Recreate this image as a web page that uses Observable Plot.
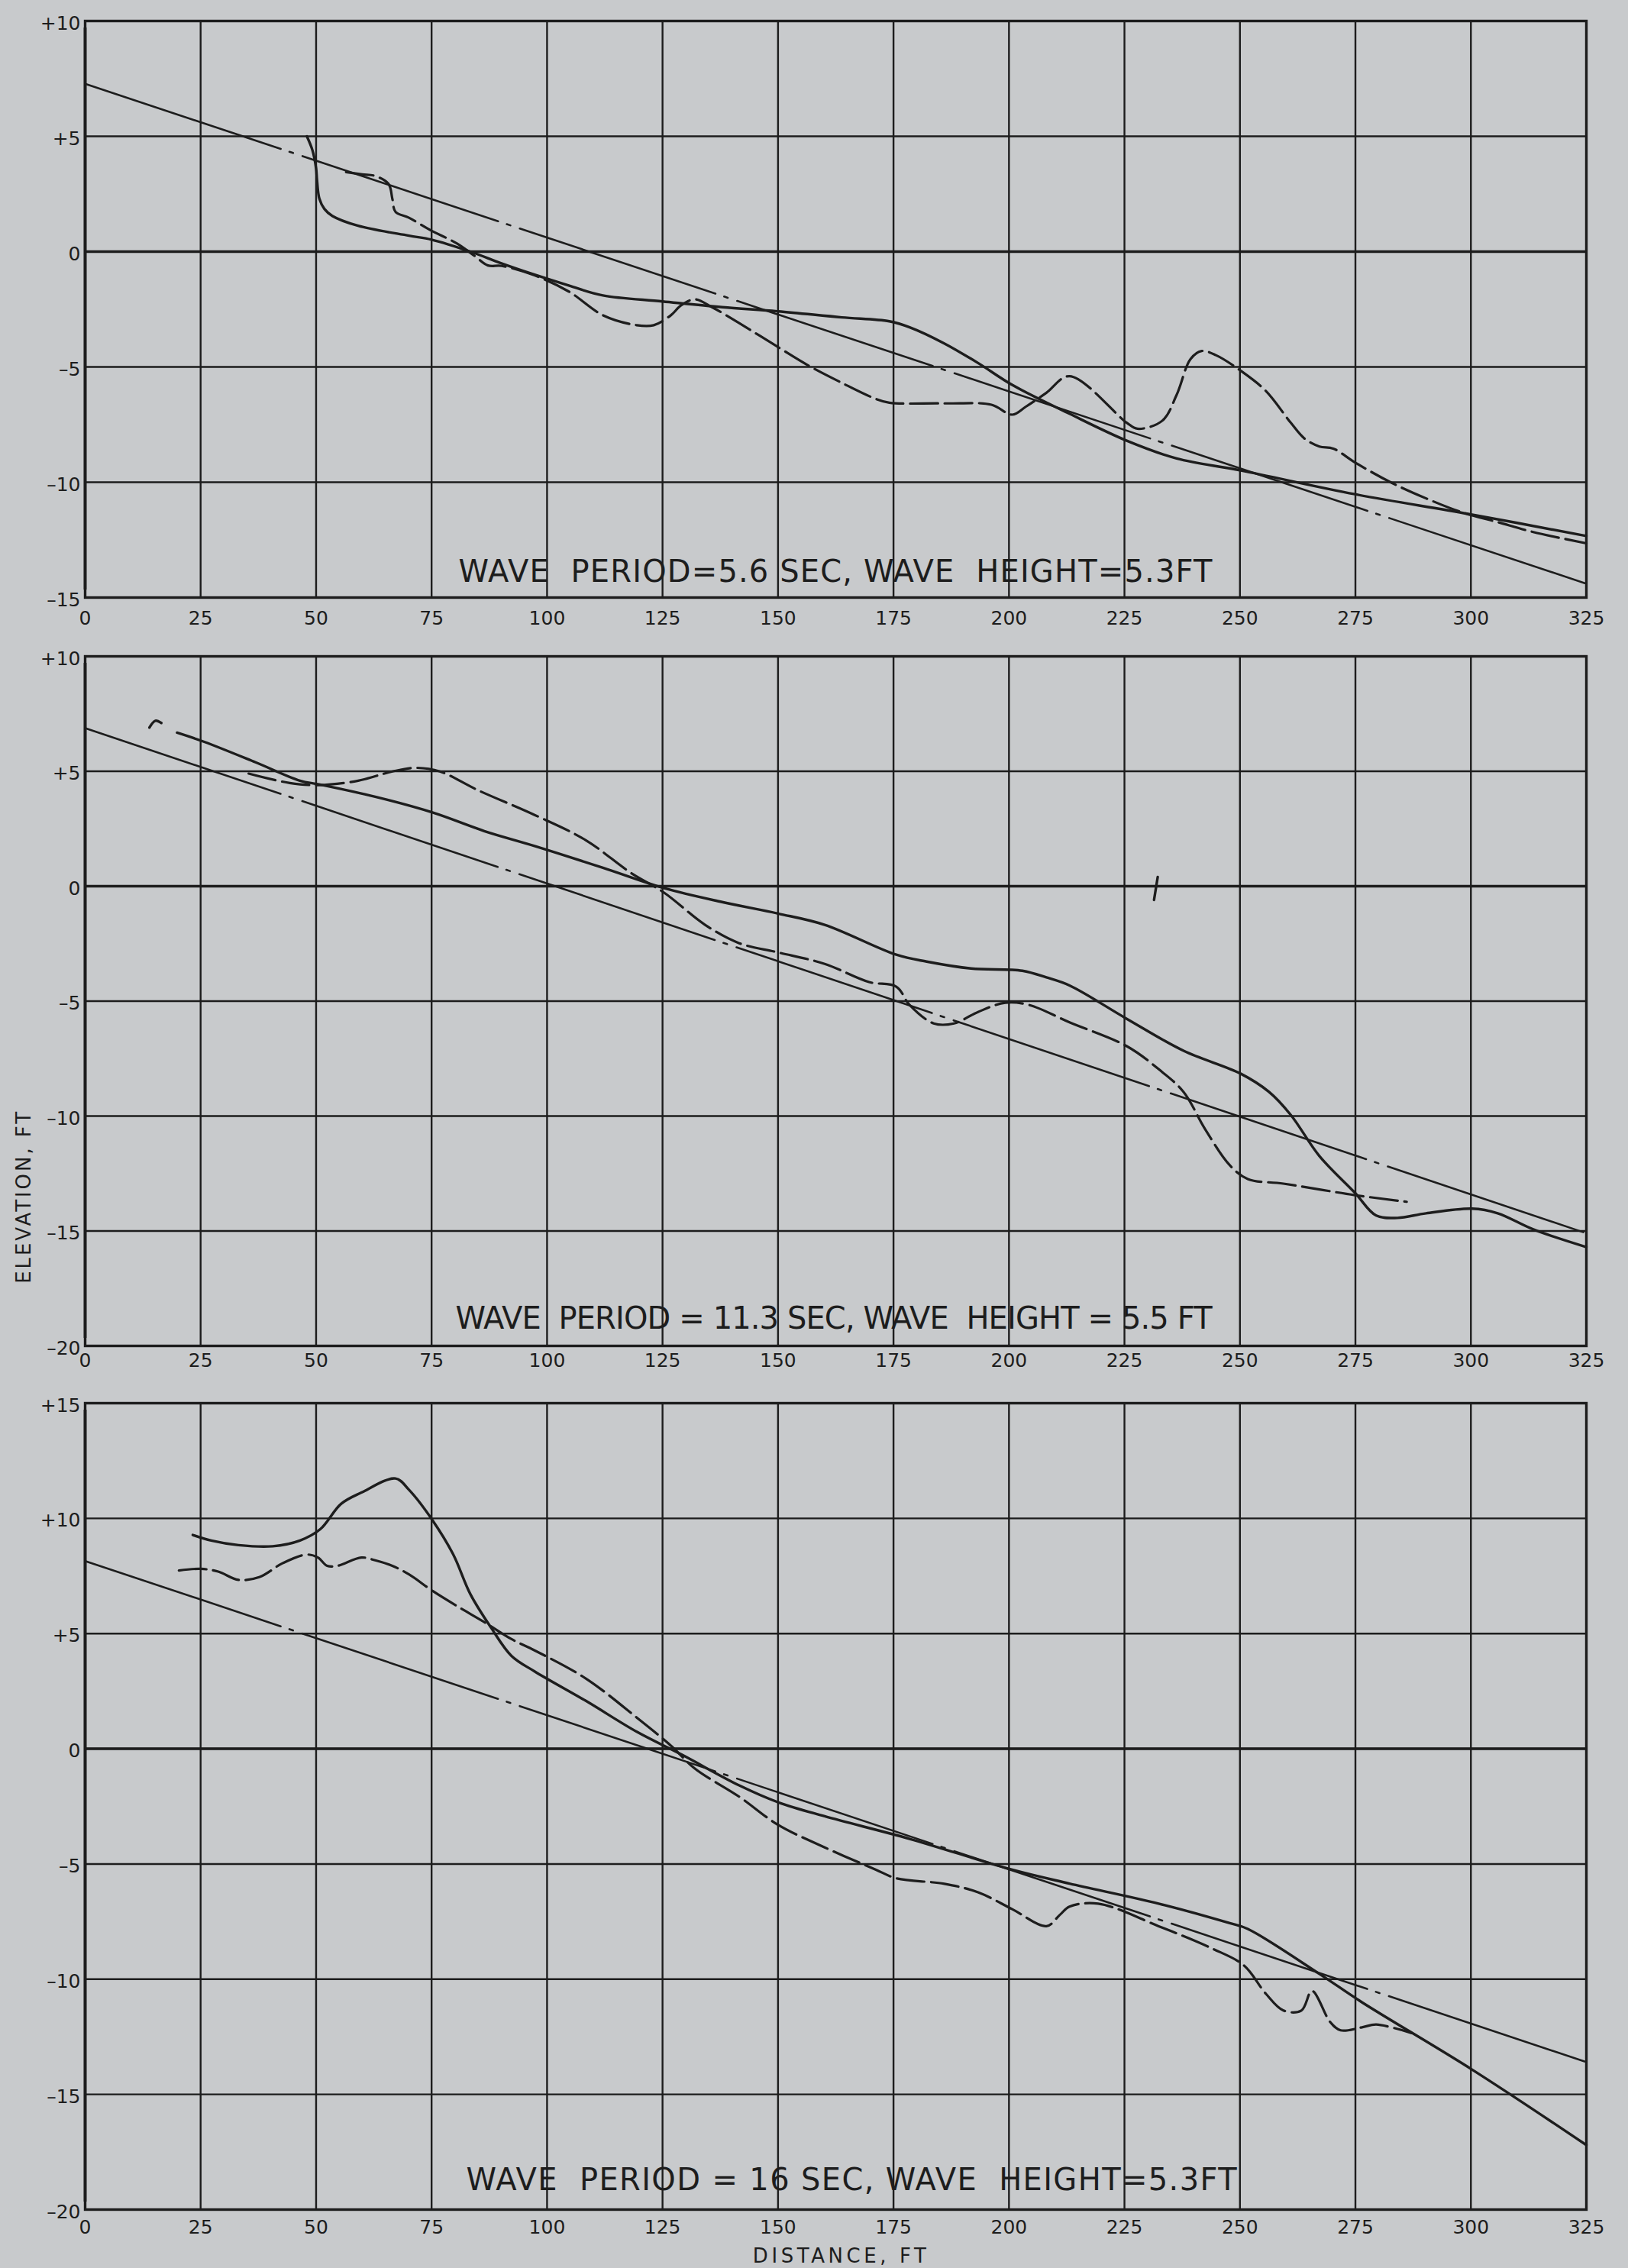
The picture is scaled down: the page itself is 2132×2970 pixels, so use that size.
<!DOCTYPE html>
<html>
<head>
<meta charset="utf-8">
<script src="https://cdn.jsdelivr.net/npm/d3@7"></script>
<script src="https://cdn.jsdelivr.net/npm/@observablehq/plot@0.6"></script>
<style>
  html, body { margin: 0; padding: 0; background: #c8cacc; }
  #wrap { position: relative; width: 2132px; height: 2970px; background: #c8cacc; overflow: hidden; }
  #wrap svg { position: absolute; left: 0; }
</style>
</head>
<body>
<div id="wrap"></div>
<script>
// ---------- data ----------
const xTicks = [0, 25, 50, 75, 100, 125, 150, 175, 200, 225, 250, 275, 300, 325];
const p1YTicks = [-15, -10, -5, 0, 5, 10];
const p2YTicks = [-20, -15, -10, -5, 0, 5, 10];
const p3YTicks = [-20, -15, -10, -5, 0, 5, 10, 15];

const p1Title = "WAVE \u00a0PERIOD=5.6 SEC, WAVE \u00a0HEIGHT=5.3FT";
const p2Title = "WAVE \u00a0PERIOD = 11.3 SEC, WAVE \u00a0HEIGHT = 5.5 FT";
const p3Title = "WAVE \u00a0PERIOD = 16 SEC, WAVE \u00a0HEIGHT=5.3FT";
const xLabel = "DISTANCE, FT";
const yLabel = "ELEVATION, FT";

// Panel 1 (5.6 s)
const p1Straight = [[0, 7.28], [325, -14.4]];
const p1Solid = [[48.0, 5.0], [49.2, 4.4], [50.0, 3.6], [50.2, 3.1], [50.7, 2.3], [51.8, 1.85], [53.5, 1.55],
  [59.1, 1.12], [70.1, 0.69], [75, 0.52], [83.4, 0.0], [90, -0.5], [97.3, -1.0], [104.7, -1.47], [112.1, -1.9],
  [125, -2.16], [137.9, -2.41], [150, -2.59], [163.8, -2.85], [174.1, -3.02], [178.5, -3.28], [185.9, -3.97],
  [193.3, -4.83], [200.7, -5.78], [213.1, -7.03], [225.4, -8.19], [236.3, -8.97], [250.2, -9.49],
  [274.9, -10.52], [299.6, -11.38], [325, -12.33]];
const p1Dashed = [[56.5, 3.45], [60, 3.35], [62.8, 3.28], [65.7, 2.93], [66.5, 2.3], [67.2, 1.72], [70.1, 1.47],
  [74.6, 0.95], [80.5, 0.35], [84.2, -0.17], [87.2, -0.6], [90.2, -0.62], [97.3, -1.03], [104.7, -1.73],
  [112.1, -2.76], [119.4, -3.19], [123.1, -3.19], [126.8, -2.76], [129.0, -2.33], [132.0, -2.07], [135.7, -2.41],
  [141.6, -3.10], [150, -4.14], [156.4, -4.92], [163.8, -5.69], [171.1, -6.38], [174.1, -6.55], [185.9, -6.58],
  [196.2, -6.64], [200.7, -7.07], [203.6, -6.73], [208.1, -6.12], [213.1, -5.4], [225.5, -7.42], [227.8, -7.68],
  [233.2, -7.33], [236.3, -6.21], [239.3, -4.66], [241.7, -4.31], [244.8, -4.49], [250.2, -5.17], [255.6, -6.04],
  [261, -7.42], [264, -8.11], [267.2, -8.45], [270.2, -8.54], [274.9, -9.14], [282.6, -10.0], [290.3, -10.7],
  [298, -11.3], [305.8, -11.73], [313.5, -12.16], [325, -12.65]];

// Panel 2 (11.3 s)
const p2Straight = [[0, 6.88], [325, -15.1]];
const p2Solid = [[19.9, 6.68], [25.8, 6.28], [36.9, 5.39], [46.5, 4.59], [50.6, 4.43], [62.8, 3.89], [75.3, 3.2],
  [86.4, 2.40], [97.3, 1.75], [112.1, 0.80], [125.4, -0.09], [137.9, -0.69], [150, -1.19], [160.1, -1.68],
  [175.6, -2.98], [182.2, -3.28], [191.8, -3.58], [202.9, -3.68], [208.1, -3.97], [213.1, -4.32], [225.5, -5.77],
  [237.8, -7.16], [250.2, -8.16], [256.3, -8.95], [261.0, -9.95], [267.2, -11.74], [274.9, -13.34],
  [279.5, -14.33], [284.1, -14.43], [290.3, -14.23], [300.3, -14.03], [305.8, -14.23], [313.5, -14.93], [325, -15.7]];
const p2Dashed = [[35.4, 4.9], [44.3, 4.49], [50.6, 4.4], [59.1, 4.59], [66.5, 4.99], [71.6, 5.15], [76.8, 4.99],
  [84.9, 4.19], [97.3, 3.1], [108.4, 2.0], [118, 0.6], [125.4, -0.29], [134.2, -1.68], [141.6, -2.48], [150, -2.88],
  [160.1, -3.38], [169.7, -4.17], [175.6, -4.37], [178.5, -5.17], [183.7, -5.97], [188.1, -5.97], [193.3, -5.47],
  [199.2, -5.07], [204.4, -5.17], [213.1, -5.92], [225.5, -6.96], [232.4, -7.96], [237.8, -8.95], [242.4, -10.55],
  [247.8, -12.14], [251.7, -12.74], [259.4, -12.94], [274.9, -13.44], [286.1, -13.73]];
const p2Mark = [[13.9, 6.9], [15.2, 7.2], [16.5, 7.1]];
const p2Stray = [[232.2, 0.4], [231.4, -0.6]];

// Panel 3 (16 s)
const p3Straight = [[0, 8.15], [325, -13.6]];
const p3Solid = [[23.3, 9.28], [27.3, 9.04], [33.2, 8.84], [40.6, 8.79], [46.5, 9.04], [50.9, 9.53], [55.4, 10.63],
  [59.8, 11.12], [67.2, 11.73], [70.1, 11.24], [75.3, 9.89], [79.7, 8.43], [83.4, 6.71], [87.9, 5.25], [92.3, 4.03],
  [97.3, 3.36], [108.4, 2.08], [119.5, 0.73], [129.1, -0.25], [141.6, -1.59], [150, -2.32], [160.1, -2.93],
  [178.5, -3.91], [200.7, -5.25], [213.1, -5.85], [232.4, -6.72], [247.8, -7.57], [251.7, -7.82], [267.2, -9.77],
  [276.4, -11.0], [300.3, -13.93], [325, -17.2]];
const p3Dashed = [[20.3, 7.74], [25.1, 7.81], [28.8, 7.69], [33.2, 7.33], [37.7, 7.45], [42.8, 8.06], [48.0, 8.43],
  [50.4, 8.3], [52.4, 7.94], [54.6, 7.94], [59.8, 8.3], [62.8, 8.18], [66.5, 7.94], [70.1, 7.57], [75.3, 6.84],
  [81.2, 6.11], [86.4, 5.50], [92.3, 4.76], [97.3, 4.27], [108.4, 3.05], [119.5, 1.34], [126.9, 0.12], [132, -0.86],
  [141.6, -2.08], [150, -3.30], [160.1, -4.28], [171.2, -5.25], [175.6, -5.62], [186, -5.86], [193.3, -6.23],
  [200.7, -6.96], [208.1, -7.70], [211, -7.21], [213.1, -6.85], [219.3, -6.72], [232.4, -7.70], [244, -8.67],
  [250.9, -9.41], [255.6, -10.63], [259.4, -11.36], [263.3, -11.36], [265.6, -10.51], [269.5, -11.85],
  [271.8, -12.22], [276.4, -12.09], [279.5, -11.97], [287.2, -12.34]];

// ---------- drawing ----------
const INK = "#1d1d1d";
const yFmt = d => d > 0 ? "+" + d : d < 0 ? "\u2013" + Math.abs(d) : "0";
const px = d => d[0], py = d => d[1];

const panels = [
  {top: 0, height: 840, mt: 27, mb: 58, yDomain: [-15, 10], yTicks: p1YTicks, xPad: 18,
   straight: p1Straight, solid: p1Solid, dashed: p1Dashed, extra: [], title: p1Title, titleX: 162.4, titleDy: -33, titleW: 987},
  {top: 840, height: 980, mt: 19, mb: 58, yDomain: [-20, 10], yTicks: p2YTicks, xPad: 10,
   straight: p2Straight, solid: p2Solid, dashed: p2Dashed, extra: [p2Mark, p2Stray], title: p2Title, titleX: 162.1, titleDy: -35, titleW: 991,
   yLabel: true},
  {top: 1820, height: 1150, mt: 17, mb: 77, yDomain: [-20, 15], yTicks: p3YTicks, xPad: 14,
   straight: p3Straight, solid: p3Solid, dashed: p3Dashed, extra: [], title: p3Title, titleX: 165.9, titleDy: -38, titleW: 1009,
   xLabel: true}
];

const wrap = document.getElementById("wrap");
for (const cfg of panels) {
  const marks = [
    Plot.ruleX(xTicks, {stroke: INK, strokeWidth: 2.4}),
    Plot.ruleY(cfg.yTicks, {stroke: INK, strokeWidth: 2.4}),
    Plot.ruleY([0], {stroke: INK, strokeWidth: 3.6}),
    Plot.ruleX([0], {y1: cfg.yDomain[0], y2: cfg.yDomain[1], insetTop: -10, insetBottom: -9, stroke: INK, strokeWidth: 3.8}),
    Plot.frame({stroke: INK, strokeWidth: 3.4}),
    Plot.axisX(xTicks, {tickSize: 0, tickPadding: cfg.xPad, fontSize: 25, tickFormat: d => String(d), fill: INK}),
    Plot.axisY(cfg.yTicks, {tickSize: 0, tickPadding: 6, fontSize: 25, tickFormat: yFmt, dy: 3, fill: INK}),
    Plot.line(cfg.straight, {x: px, y: py, stroke: INK, strokeWidth: 2.6, strokeDasharray: "270,12,5,13"}),
    Plot.line(cfg.dashed, {x: px, y: py, curve: "catmull-rom", stroke: INK, strokeWidth: 3.2, strokeDasharray: "36,9"}),
    Plot.line(cfg.solid, {x: px, y: py, curve: "catmull-rom", stroke: INK, strokeWidth: 3.4}),
    ...cfg.extra.map(seg => Plot.line(seg, {x: px, y: py, curve: "catmull-rom", stroke: INK, strokeWidth: 3.4})),
    Plot.text([cfg.title], {x: () => cfg.titleX, frameAnchor: "bottom", dy: cfg.titleDy, lineAnchor: "middle",
      textAnchor: "middle", fontSize: 40, fill: INK})
  ];
  if (cfg.yLabel) {
    marks.push(Plot.text([yLabel], {frameAnchor: "left", y: () => -13.55, dx: -80, rotate: -90,
      textAnchor: "middle", fontSize: 26, fill: INK, lineAnchor: "middle"}));
  }
  if (cfg.xLabel) {
    marks.push(Plot.text([xLabel], {x: () => 163.3, frameAnchor: "bottom", dy: 61, lineAnchor: "middle",
      textAnchor: "middle", fontSize: 26, fill: INK}));
  }
  const svg = Plot.plot({
    width: 2132,
    height: cfg.height,
    marginLeft: 111,
    marginRight: 55,
    marginTop: cfg.mt,
    marginBottom: cfg.mb,
    x: {domain: [0, 325]},
    y: {domain: cfg.yDomain},
    style: {background: "transparent", fontFamily: "'DejaVu Sans', sans-serif", fontSize: "25px", color: INK, overflow: "visible"},
    marks
  });
  // stretch label texts to the widths measured in the reference
  const widths = new Map([[cfg.title, cfg.titleW], [xLabel, 227], [yLabel, 225]]);
  d3.select(svg).selectAll("text").each(function () {
    const w = widths.get(this.textContent);
    if (w) { this.setAttribute("textLength", w); this.setAttribute("lengthAdjust", "spacing"); }
  });
  svg.style.top = cfg.top + "px";
  wrap.appendChild(svg);
}
</script>
</body>
</html>
